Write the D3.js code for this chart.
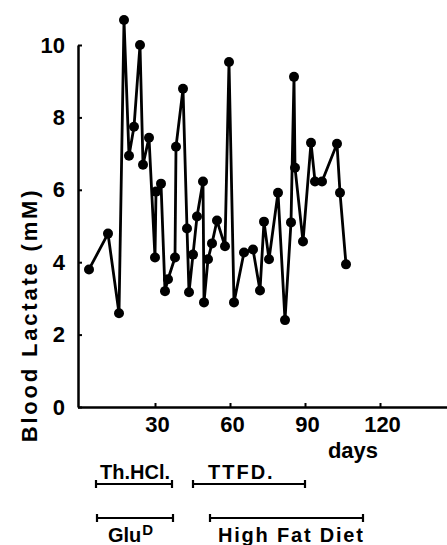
<!DOCTYPE html>
<html><head><meta charset="utf-8">
<script src="https://cdn.jsdelivr.net/npm/d3@7"></script>
<style>body{margin:0;background:#fff}svg{display:block}</style>
</head><body><svg id="c" width="447" height="545"></svg>
<script>
const days = [3.6,11.2,15.6,17.6,19.6,21.6,24,25.2,27.6,30,30.4,32.4,34,35.2,38,38.4,41.2,42.8,43.6,45.2,46.8,49.2,49.6,51.2,52.8,54.8,58,59.6,61.6,65.6,69.2,72,73.6,75.6,79.2,82,84.4,85.6,86,89.2,92.4,94,96.8,102.8,104,106.4];
const lactate = [3.8,4.79,2.59,10.69,6.94,7.74,10.0,6.69,7.44,4.13,5.95,6.17,3.2,3.53,4.13,7.19,8.79,4.93,3.17,4.21,5.26,6.23,2.89,4.08,4.52,5.15,4.44,9.53,2.89,4.27,4.35,3.22,5.12,4.08,5.92,2.4,5.1,9.12,6.61,4.57,7.3,6.23,6.23,7.27,5.92,3.94];
const xTicks = [30,60,90,120];
const yTicks = [0,2,4,6,8,10];
const drugNames = ["Th.HCl.","TTFD."];
const drugStart = [6.4,45.2];
const drugEnd = [36.8,90];
const dietNames = ["Glu","High Fat Diet"];
const dietSup = ["D",""];
const dietStart = [6.8,52];
const dietEnd = [37.2,113.2];

const svg = d3.select("#c");
const FONT = "'Liberation Sans', Arial, sans-serif";
const x = d3.scaleLinear().domain([-1,147]).range([77.5,447.5]);
const y = d3.scaleLinear().domain([0,10]).range([407,45]);

// axes
const xAxis = d3.axisBottom(x).tickValues(xTicks).tickSizeInner(-4).tickSizeOuter(0).tickPadding(9);
const gx = svg.append("g").attr("transform",`translate(0,${y(0)})`).call(xAxis);
const yAxis = d3.axisLeft(y).tickValues(yTicks).tickSizeInner(-4).tickSizeOuter(0).tickPadding(13);
const gy = svg.append("g").attr("transform",`translate(${x(-1)+0.5},0)`).call(yAxis);
[gx,gy].forEach(g=>{
  g.select(".domain").attr("stroke","#000").attr("stroke-width",2.5);
  g.selectAll(".tick line").attr("stroke","#000").attr("stroke-width",2);
  g.selectAll(".tick text").attr("fill","#000").style("font-family",FONT).style("font-weight","bold").style("font-size","22px");
});
gx.selectAll(".tick text").attr("dx","2");

// axis titles
svg.append("text").attr("transform","translate(37,315) rotate(-90)")
  .attr("text-anchor","middle").style("font-family",FONT).style("font-weight","bold")
  .style("font-size","22px").style("letter-spacing","2.8px").text("Blood Lactate (mM)");
svg.append("text").attr("x",353).attr("y",458).attr("text-anchor","middle")
  .style("font-family",FONT).style("font-weight","bold").style("font-size","22px").text("days");

// line + points
const line = d3.line().x((d,i)=>x(days[i])).y(d=>y(d));
svg.append("path").datum(lactate).attr("d",line).attr("fill","none")
  .attr("stroke","#000").attr("stroke-width",2.8).attr("stroke-linejoin","round");
svg.selectAll("circle.pt").data(lactate).join("circle").attr("class","pt")
  .attr("cx",(d,i)=>x(days[i])).attr("cy",d=>y(d)).attr("r",5).attr("fill","#000");

// treatment bars
function bar(s,e,yy){
  const g = svg.append("g").attr("stroke","#000").attr("stroke-width",2.2);
  g.append("line").attr("x1",x(s)).attr("x2",x(e)).attr("y1",yy).attr("y2",yy);
  g.append("line").attr("x1",x(s)).attr("x2",x(s)).attr("y1",yy-4).attr("y2",yy+4);
  g.append("line").attr("x1",x(e)).attr("x2",x(e)).attr("y1",yy-4).attr("y2",yy+4);
}
drugNames.forEach((n,i)=>{
  bar(drugStart[i],drugEnd[i],484);
  svg.append("text").attr("x",i===0?100:208).attr("y",479)
    .style("font-family",FONT).style("font-weight","bold").style("font-size","20px")
    .style("letter-spacing",i===0?"0px":"2px").text(n);
});
dietNames.forEach((n,i)=>{
  bar(dietStart[i],dietEnd[i],518);
  const t = svg.append("text").attr("x",i===0?108:218).attr("y",542)
    .style("font-family",FONT).style("font-weight","bold").style("font-size","20px")
    .style("letter-spacing",i===0?"0px":"1.8px").text(n);
  if(dietSup[i]) t.append("tspan").attr("dy",-7).attr("dx",1).style("font-size","15px").text(dietSup[i]);
});
</script></body></html>
